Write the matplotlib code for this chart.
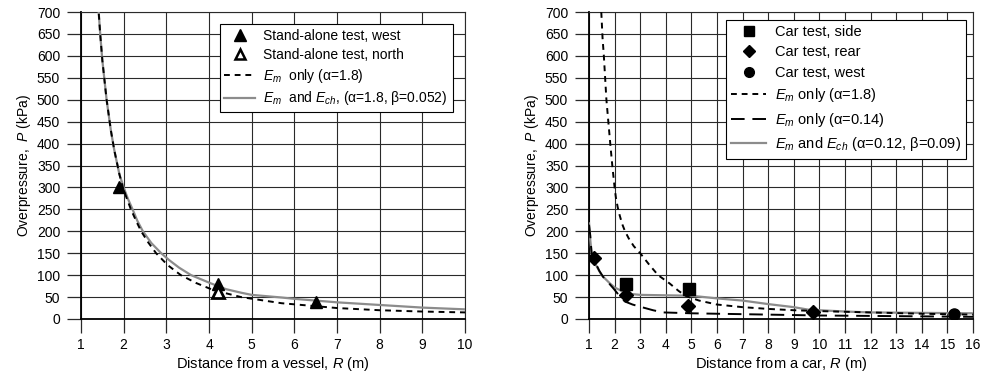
import matplotlib
matplotlib.use("Agg")
import matplotlib.pyplot as plt
from matplotlib.lines import Line2D

plt.rcParams['font.family'] = ['Liberation Sans', 'DejaVu Sans']
plt.rcParams['mathtext.fontset'] = 'custom'
plt.rcParams['mathtext.rm'] = 'Liberation Sans'
plt.rcParams['mathtext.it'] = 'Liberation Sans:italic'
plt.rcParams['font.size'] = 10

# ---------------- Left panel data ----------------
west_R = [1.9, 4.2, 6.5]
west_P = [300, 80, 38]
north_R = [4.2]
north_P = [62]

em_left_R = [1.40, 1.45, 1.5, 1.6, 1.7, 1.78, 1.9, 1.98, 2.08, 2.17, 2.3, 2.41, 2.58, 2.76, 3.03, 3.34, 3.7, 4.1, 4.75, 5.7, 7.0, 8.0, 9.0, 10.0]
em_left_P = [720, 650, 590, 500, 430, 385, 330, 300, 273, 250, 222, 200, 174, 150, 123, 100, 82, 66, 50, 36, 25, 20, 17, 15]

emch_left_R = [1.40, 1.45, 1.5, 1.6, 1.7, 1.78, 1.9, 2.0, 2.1, 2.2, 2.32, 2.45, 2.65, 2.88, 3.07, 3.3, 3.58, 4.05, 4.4, 4.75, 5.0, 5.7, 6.0, 7.0, 8.0, 9.0, 10.0]
emch_left_P = [720, 650, 590, 500, 430, 385, 330, 300, 274, 252, 224, 200, 173, 150, 134, 117, 100, 81, 68, 60, 55, 49, 46, 38, 32, 26, 22]

# ---------------- Right panel data ----------------
side_R = [2.45, 4.9]
side_P = [80, 68]
rear_R = [1.2, 2.45, 4.85, 9.75]
rear_P = [140, 55, 30, 15]
westcar_R = [15.25]
westcar_P = [12]

em18_R = [1.48, 1.53, 1.58, 1.68, 1.83, 1.91, 2.0, 2.05, 2.12, 2.2, 2.3, 2.4, 2.55, 2.75, 3.0, 3.35, 3.7, 4.15, 4.5, 4.8, 5.3, 6.0, 7.0, 8.0, 9.0, 10.0, 12.0, 14.0, 16.0]
em18_P = [700, 640, 600, 500, 400, 350, 300, 277, 255, 236, 216, 201, 184, 166, 150, 124, 100, 81, 64, 52, 42, 33, 27, 23, 20, 18, 15, 12, 10]

em014_R = [1.0, 1.05, 1.1, 1.2, 1.4, 1.6, 1.8, 1.95, 2.2, 2.4, 2.7, 3.0, 3.5, 3.9, 5.0, 6.0, 8.0, 10.0, 12.0, 16.0]
em014_P = [215, 190, 150, 135, 110, 92, 80, 70, 52, 40, 33, 28, 20, 15, 13, 12, 10, 8, 7, 5]

emch_R = [1.0, 1.05, 1.1, 1.2, 1.3, 1.49, 1.82, 2.0, 2.47, 3.0, 4.0, 5.0, 6.0, 7.0, 8.0, 9.0, 9.6, 10.0, 11.0, 12.0, 14.0, 16.0]
emch_P = [218, 180, 150, 132, 120, 100, 81, 72, 58, 55, 54, 53, 47, 42, 34, 27, 21, 20, 17, 15, 14, 13]

GRID = '#2a2a2a'
GRAY = '#8c8c8c'

fig = plt.figure(figsize=(9.82, 3.79), dpi=100)
axL = fig.add_axes([81/982, 1-319/379, (465-81)/982, (319-12)/379])
axR = fig.add_axes([589/982, 1-319/379, (973-589)/982, (319-12)/379])


def style(ax, xmax):
    ax.set_xlim(1, xmax)
    ax.set_ylim(0, 700)
    ax.set_xticks(range(1, xmax + 1))
    ax.set_yticks(range(0, 701, 50))
    ax.grid(True, color=GRID, linewidth=0.8)
    ax.set_axisbelow(True)
    for s in ax.spines.values():
        s.set_color(GRID)
        s.set_linewidth(0.8)
    ax.spines['left'].set_linewidth(1.3)
    ax.spines['left'].set_color('black')
    ax.spines['bottom'].set_linewidth(1.3)
    ax.spines['bottom'].set_color('black')
    ax.tick_params(direction='out', length=10, width=0.9, color=GRID, labelsize=10)
    ax.tick_params(axis='y', pad=5)
    ax.tick_params(axis='x', pad=4)
    ax.set_ylabel('Overpressure,  $P$ (kPa)', fontsize=10, labelpad=3)


# Left panel
style(axL, 10)
axL.plot(emch_left_R, emch_left_P, color=GRAY, lw=1.6, zorder=3)
axL.plot(em_left_R, em_left_P, color='black', lw=1.4, ls=(0, (3, 2.5)), zorder=4)
axL.plot(west_R, west_P, ls='none', marker='^', ms=9, color='black', zorder=5)
axL.plot(north_R, north_P, ls='none', marker='^', ms=8, mfc='white', mec='black', mew=2, zorder=6)
axL.set_xlabel('Distance from a vessel, $R$ (m)', fontsize=10.5, labelpad=2)

hL = [
    Line2D([], [], ls='none', marker='^', ms=8, color='black'),
    Line2D([], [], ls='none', marker='^', ms=7, mfc='white', mec='black', mew=1.8),
    Line2D([], [], color='black', lw=1.4, ls=(0, (3, 2.5))),
    Line2D([], [], color=GRAY, lw=1.6),
]
lL = ['Stand-alone test, west', 'Stand-alone test, north',
      '$E_m$  only (\u03b1=1.8)', '$E_m$  and $E_{ch}$, (\u03b1=1.8, \u03b2=0.052)']
legL = axL.legend(hL, lL, loc='upper right', bbox_to_anchor=(0.975, 0.97), fontsize=10,
                  frameon=True, fancybox=False, edgecolor='black', framealpha=1,
                  handlelength=2.2, handletextpad=0.6, borderpad=0.35, labelspacing=0.35,
                  borderaxespad=0.2)
legL.get_frame().set_linewidth(0.8)

# Right panel
style(axR, 16)
axR.plot(emch_R, emch_P, color=GRAY, lw=1.6, zorder=3)
axR.plot(em014_R, em014_P, color='black', lw=1.4, ls=(0, (7, 4)), zorder=4)
axR.plot(em18_R, em18_P, color='black', lw=1.4, ls=(0, (3, 2.5)), zorder=4)
axR.plot(side_R, side_P, ls='none', marker='s', ms=8, color='black', zorder=5)
axR.plot(rear_R, rear_P, ls='none', marker='D', ms=7, color='black', zorder=5)
axR.plot(westcar_R, westcar_P, ls='none', marker='o', ms=8, color='black', zorder=5)
axR.set_xlabel('Distance from a car, $R$ (m)', fontsize=10.5, labelpad=2)

hR = [
    Line2D([], [], ls='none', marker='s', ms=7, color='black'),
    Line2D([], [], ls='none', marker='D', ms=6.5, color='black'),
    Line2D([], [], ls='none', marker='o', ms=7, color='black'),
    Line2D([], [], color='black', lw=1.4, ls=(0, (3, 2.5))),
    Line2D([], [], color='black', lw=1.4, ls=(0, (7, 4))),
    Line2D([], [], color=GRAY, lw=1.6),
]
lR = ['Car test, side', 'Car test, rear', 'Car test, west',
      '$E_m$ only (\u03b1=1.8)', '$E_m$ only (\u03b1=0.14)',
      '$E_m$ and $E_{ch}$ (\u03b1=0.12, \u03b2=0.09)']
legR = axR.legend(hR, lR, loc='upper right', bbox_to_anchor=(0.99, 0.985), fontsize=10.5,
                  frameon=True, fancybox=False, edgecolor='black', framealpha=1,
                  handlelength=2.4, handletextpad=0.6, borderpad=0.35, labelspacing=0.45,
                  borderaxespad=0.2)
legR.get_frame().set_linewidth(0.8)

fig.savefig('out.png', dpi=100)
